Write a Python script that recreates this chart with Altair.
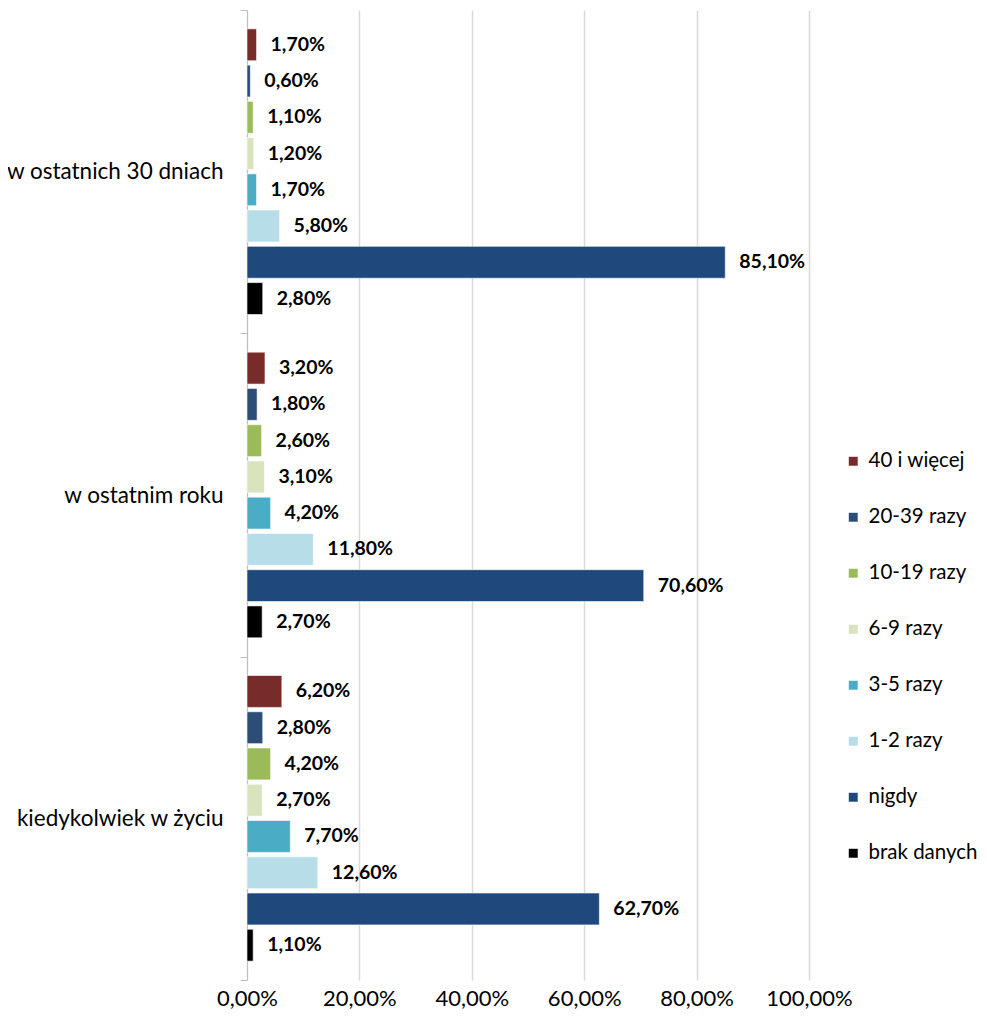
import altair as alt
import pandas as pd

categories = ["w ostatnich 30 dniach", "w ostatnim roku", "kiedykolwiek w życiu"]
series = ["40 i więcej", "20-39 razy", "10-19 razy", "6-9 razy", "3-5 razy", "1-2 razy", "nigdy", "brak danych"]
colors = ["#772C2A", "#2C4D75", "#9BBB59", "#D7E4BD", "#4BACC6", "#B7DEE8", "#1F497D", "#000000"]

vals_30dni = [0.017, 0.006, 0.011, 0.012, 0.017, 0.058, 0.851, 0.028]
vals_rok = [0.032, 0.018, 0.026, 0.031, 0.042, 0.118, 0.706, 0.027]
vals_zycie = [0.062, 0.028, 0.042, 0.027, 0.077, 0.126, 0.627, 0.011]

x_ticks = [0, 0.2, 0.4, 0.6, 0.8, 1.0]

rows = []
for cat, vals in zip(categories, [vals_30dni, vals_rok, vals_zycie]):
    for s, v in zip(series, vals):
        rows.append({"kat": cat, "seria": s, "wartosc": v})
df = pd.DataFrame(rows)

FONT = "Lato"

base = alt.Chart(df).encode(
    y=alt.Y("kat:N", sort=categories, title=None,
            scale=alt.Scale(paddingInner=0, paddingOuter=0),
            axis=alt.Axis(tickBand="extent", grid=False, domainColor="#BFBFBF",
                          tickColor="#BFBFBF", tickSize=7, labelPadding=17,
                          labelFont=FONT, labelFontSize=22.5, labelColor="#000000",
                          labelLimit=300)),
    yOffset=alt.YOffset("seria:N", sort=series,
                        scale=alt.Scale(paddingInner=0.12, paddingOuter=0.52)),
    x=alt.X("wartosc:Q", title=None,
            scale=alt.Scale(domain=[0, 1], nice=False, zero=True),
            axis=alt.Axis(values=x_ticks, grid=True, gridColor="#D9D9D9", gridWidth=1.5,
                          domain=False, ticks=False, labelPadding=8, labelFlush=False,
                          labelFont=FONT, labelFontSize=22, labelColor="#000000",
                          labelExpr="replace(format(datum.value, '.2%'), '.', ',')")),
)

bars = base.mark_bar(stroke="white", strokeWidth=0.6).encode(
    color=alt.Color("seria:N", sort=series,
                    scale=alt.Scale(domain=series, range=colors),
                    legend=alt.Legend(title=None, orient="none", legendX=596, legendY=441,
                                      symbolType="square", symbolSize=80, symbolStrokeWidth=0,
                                      labelFont=FONT, labelFontSize=20.5, labelColor="#000000",
                                      rowPadding=35, labelOffset=5, labelLimit=300))
)

labels = base.mark_text(align="left", baseline="middle", dx=14, font=FONT,
                        fontWeight="bold", fontSize=19.5, color="#000000").transform_calculate(
    lbl="replace(format(datum.wartosc, '.2%'), '.', ',')"
).encode(text="lbl:N")

chart = alt.layer(bars, labels).properties(
    width=562, height=970,
    autosize=alt.AutoSizeParams(type="none"),
    padding={"left": 239, "top": 2, "right": 170, "bottom": 31}
).configure_view(stroke=None)

chart.save("out.html", embed_options={"renderer": "svg", "actions": False})
